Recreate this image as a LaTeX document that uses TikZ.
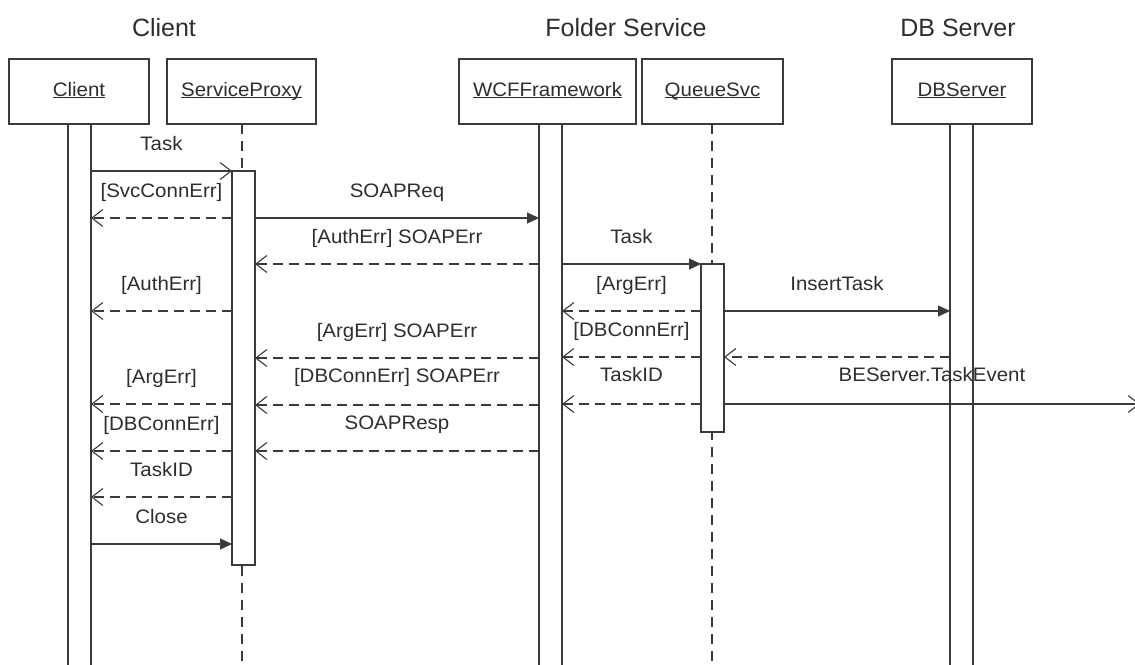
\documentclass[tikz,border=0pt]{standalone}
\usepackage{fontspec}
\setmainfont{Liberation Sans}
\newfontfamily\lblfont[FakeStretch=1.05]{Liberation Sans}
\usetikzlibrary{arrows.meta}
\definecolor{ln}{HTML}{3A3A3A}
\definecolor{tx}{HTML}{2E2E2E}
\newcommand{\ulname}[1]{\underline{\smash{#1}}}
\begin{document}
\begin{tikzpicture}[x=1pt,y=-1pt,
  every node/.style={outer sep=0pt},
  ttl/.style={anchor=base,text=tx,font=\fontsize{25}{28}\selectfont},
  hdr/.style={draw=ln,line width=1.3pt,fill=white,minimum height=65pt,inner sep=0pt,text height=14pt,text depth=5pt,text=tx,font=\lblfont\fontsize{19.5}{22}\selectfont},
  bar/.style={draw=ln,line width=1.2pt,fill=white,minimum width=23pt,inner sep=0pt},
  life/.style={draw=ln,line width=1.1pt,dash pattern=on 10pt off 7pt},
  lbl/.style={anchor=base,text=tx,font=\lblfont\fontsize{19.5}{22}\selectfont,inner sep=0pt},
  call/.style={draw=ln,line width=1.1pt,-{Triangle[length=12pt,width=11pt]}},
  acall/.style={draw=ln,line width=1.1pt,-{Straight Barb[length=11pt,width=17pt,line width=1.1pt]}},
  ret/.style={draw=ln,line width=1.1pt,dash pattern=on 10pt off 6pt,-{Straight Barb[length=11pt,width=17pt,line width=1.1pt]}}
]
\useasboundingbox[fill=white] (0,0) rectangle (1135,664);

% titles
\node[ttl] (tclient) at (164,36) {Client};
\node[ttl] (tfolder) at (626,36) {Folder Service};
\node[ttl] (tdb) at (958,36) {DB Server};

% header boxes
\node[hdr,minimum width=140pt] (client) at (79,91.5) {\ulname{Client}};
\node[hdr,minimum width=149pt] (proxy) at (241.5,91.5) {\ulname{ServiceProxy}};
\node[hdr,minimum width=177pt] (wcf) at (547.5,91.5) {\ulname{WCFFramework}};
\node[hdr,minimum width=141pt] (queue) at (712.5,91.5) {\ulname{QueueSvc}};
\node[hdr,minimum width=140pt] (db) at (962,91.5) {\ulname{DBServer}};

% dashed lifelines
\coordinate (pend) at (242,670);
\coordinate (qend) at (712,670);
\draw[life] (proxy.south -| pend) -- (pend);
\draw[life] (queue.south -| qend) -- (qend);

% activation bars
\node[bar,minimum height=556pt] (cbar) at (79.5,402) {};
\node[bar,minimum height=394pt] (pbar) at (243.5,368) {};
\node[bar,minimum height=556pt] (wbar) at (550.5,402) {};
\node[bar,minimum height=168pt] (qbar) at (712.5,348) {};
\node[bar,minimum height=556pt] (dbar) at (961.5,402) {};

% messages
\draw[acall] (cbar.east |- 0,171) -- (pbar.west |- 0,171) node[lbl,midway,yshift=21pt] {Task};
\draw[ret] (pbar.west |- 0,218) -- (cbar.east |- 0,218) node[lbl,midway,yshift=21pt] {[SvcConnErr]};
\draw[call] (pbar.east |- 0,218) -- (wbar.west |- 0,218) node[lbl,midway,yshift=21pt] {SOAPReq};
\draw[ret] (wbar.west |- 0,264) -- (pbar.east |- 0,264) node[lbl,midway,yshift=21pt] {[AuthErr] SOAPErr};
\draw[call] (wbar.east |- 0,264) -- (qbar.west |- 0,264) node[lbl,midway,yshift=21pt] {Task};
\draw[ret] (pbar.west |- 0,311) -- (cbar.east |- 0,311) node[lbl,midway,yshift=21pt] {[AuthErr]};
\draw[ret] (qbar.west |- 0,311) -- (wbar.east |- 0,311) node[lbl,midway,yshift=21pt] {[ArgErr]};
\draw[call] (qbar.east |- 0,311) -- (dbar.west |- 0,311) node[lbl,midway,yshift=21pt] {InsertTask};
\draw[ret] (qbar.west |- 0,357) -- (wbar.east |- 0,357) node[lbl,midway,yshift=21pt] {[DBConnErr]};
\draw[ret] (dbar.west |- 0,357) -- (qbar.east |- 0,357);
\draw[ret] (wbar.west |- 0,358) -- (pbar.east |- 0,358) node[lbl,midway,yshift=21pt] {[ArgErr] SOAPErr};
\draw[ret] (pbar.west |- 0,404) -- (cbar.east |- 0,404) node[lbl,midway,yshift=21pt] {[ArgErr]};
\draw[ret] (wbar.west |- 0,405) -- (pbar.east |- 0,405) node[lbl,midway,yshift=23pt] {[DBConnErr] SOAPErr};
\draw[ret] (qbar.west |- 0,404) -- (wbar.east |- 0,404) node[lbl,midway,yshift=23pt] {TaskID};
\coordinate (beserver) at (1140,404);
\draw[acall] (qbar.east |- 0,404) -- (beserver) node[lbl,midway,yshift=23pt] {BEServer.TaskEvent};
\draw[ret] (pbar.west |- 0,451) -- (cbar.east |- 0,451) node[lbl,midway,yshift=21pt] {[DBConnErr]};
\draw[ret] (wbar.west |- 0,451) -- (pbar.east |- 0,451) node[lbl,midway,yshift=22pt] {SOAPResp};
\draw[ret] (pbar.west |- 0,497) -- (cbar.east |- 0,497) node[lbl,midway,yshift=21pt] {TaskID};
\draw[call] (cbar.east |- 0,544) -- (pbar.west |- 0,544) node[lbl,midway,yshift=21pt] {Close};
\end{tikzpicture}
\end{document}
